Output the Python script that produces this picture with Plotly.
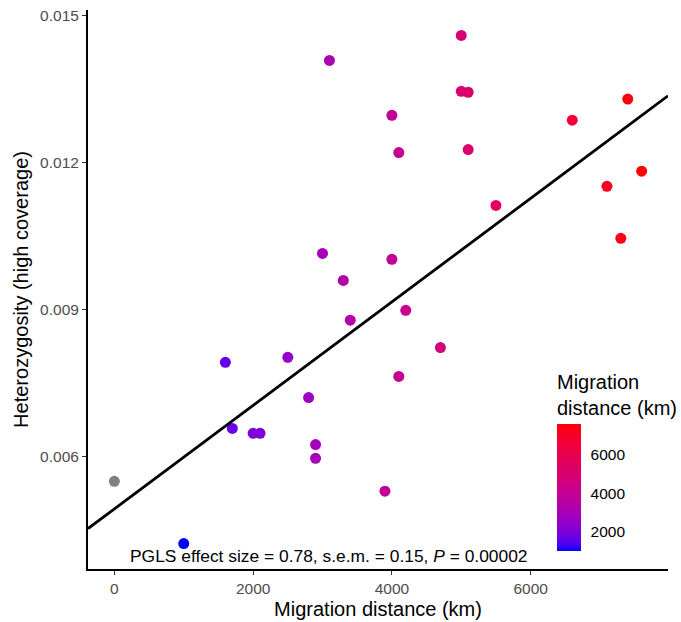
import plotly.graph_objects as go

# ---- data ----
migration_km = [1000, 1600, 1700, 2000, 2100, 2500, 2800, 2900, 2900, 3000,
                3100, 3300, 3400, 3900, 4000, 4000, 4100, 4100, 4200, 4700,
                5000, 5000, 5100, 5100, 5500, 6600, 7100, 7300, 7400, 7600]
heterozygosity = [0.00422, 0.00792, 0.00657, 0.00647, 0.00647, 0.00802, 0.00720, 0.00624, 0.00596, 0.01014,
                  0.01408, 0.00959, 0.00878, 0.00529, 0.01296, 0.01002, 0.01220, 0.00763, 0.00898, 0.00822,
                  0.01459, 0.01345, 0.01343, 0.01226, 0.01112, 0.01286, 0.01151, 0.01045, 0.01329, 0.01182]
# point without colour value (shown grey)
na_km = [0]
na_het = [0.00549]

fit_intercept = 0.004927
fit_slope = 1.0563e-6
annotation_text = "PGLS effect size = 0.78, s.e.m. = 0.15, <i>P</i> = 0.00002"
annot_x, annot_y = 3100, 0.00396

color_min, color_max = 1000, 7600
x_ticks = [0, 2000, 4000, 6000]
y_ticks = [0.006, 0.009, 0.012, 0.015]
cbar_ticks = [2000, 4000, 6000]


# ---- Lab interpolation (like ggplot's gradient) ----
def srgb_to_lab(rgb):
    def lin(c):
        c = c / 255.0
        return c / 12.92 if c <= 0.04045 else ((c + 0.055) / 1.055) ** 2.4
    r, g, b = [lin(c) for c in rgb]
    X = 0.4124 * r + 0.3576 * g + 0.1805 * b
    Y = 0.2126 * r + 0.7152 * g + 0.0722 * b
    Z = 0.0193 * r + 0.1192 * g + 0.9505 * b
    Xn, Yn, Zn = 0.95047, 1.0, 1.08883
    def f(t):
        return t ** (1 / 3) if t > 0.008856 else 7.787 * t + 16 / 116
    fx, fy, fz = f(X / Xn), f(Y / Yn), f(Z / Zn)
    return (116 * fy - 16, 500 * (fx - fy), 200 * (fy - fz))


def lab_to_srgb(lab):
    L, a, b = lab
    fy = (L + 16) / 116
    fx = fy + a / 500
    fz = fy - b / 200
    def finv(t):
        return t ** 3 if t ** 3 > 0.008856 else (t - 16 / 116) / 7.787
    Xn, Yn, Zn = 0.95047, 1.0, 1.08883
    X, Y, Z = Xn * finv(fx), Yn * finv(fy), Zn * finv(fz)
    r = 3.2406 * X - 1.5372 * Y - 0.4986 * Z
    g = -0.9689 * X + 1.8758 * Y + 0.0415 * Z
    bb = 0.0557 * X - 0.2040 * Y + 1.0570 * Z
    def gam(c):
        c = max(0.0, min(1.0, c))
        return 12.92 * c if c <= 0.0031308 else 1.055 * c ** (1 / 2.4) - 0.055
    return tuple(int(round(gam(c) * 255)) for c in (r, g, bb))


low, high = srgb_to_lab((0, 0, 255)), srgb_to_lab((255, 0, 0))
colorscale = []
n = 20
for i in range(n + 1):
    t = i / n
    lab = tuple(low[k] + (high[k] - low[k]) * t for k in range(3))
    r, g, b = lab_to_srgb(lab)
    colorscale.append([t, f"rgb({r},{g},{b})"])

# ---- axis ranges (5% expansion like ggplot) ----
all_x = migration_km + na_km
all_y = heterozygosity + na_het
xr = [min(all_x), max(all_x)]
yr = [min(all_y), max(all_y)]
xpad = (xr[1] - xr[0]) * 0.05
ypad = (yr[1] - yr[0]) * 0.05
x_range = [xr[0] - xpad, xr[1] + xpad]
y_range = [yr[0] - ypad, yr[1] + ypad]

TICK_SIZE = 15.5
TITLE_SIZE = 20

fig = go.Figure()

fig.add_trace(go.Scatter(
    x=na_km, y=na_het, mode="markers",
    marker=dict(size=11, color="#808080"),
    showlegend=False, hoverinfo="skip"))

fig.add_trace(go.Scatter(
    x=migration_km, y=heterozygosity, mode="markers",
    marker=dict(
        size=11, color=migration_km, colorscale=colorscale,
        cmin=color_min, cmax=color_max,
        colorbar=dict(
            title=dict(text="Migration<br>distance (km)", side="top",
                       font=dict(size=TITLE_SIZE, color="black")),
            tickvals=cbar_ticks, ticks="outside", ticklen=7,
            tickcolor="rgba(0,0,0,0)", outlinewidth=0,
            tickfont=dict(size=TICK_SIZE, color="black"),
            thickness=24, thicknessmode="pixels",
            len=180, lenmode="pixels",
            x=0.8086, xanchor="left", xpad=0,
            y=0.0322, yanchor="bottom", ypad=0,
        ),
    ),
    showlegend=False))

line_x = x_range
line_y = [fit_intercept + fit_slope * v for v in line_x]
fig.add_trace(go.Scatter(
    x=line_x, y=line_y, mode="lines",
    line=dict(color="black", width=2.8),
    showlegend=False, hoverinfo="skip"))

fig.add_annotation(
    x=annot_x, y=annot_y, xref="x", yref="y", text=annotation_text,
    showarrow=False, font=dict(size=17.4, color="black"),
    xanchor="center", yanchor="middle")

axis_common = dict(
    showgrid=False, zeroline=False, showline=True, linecolor="black",
    linewidth=2, ticks="outside", ticklen=4, tickwidth=1, tickcolor="#333333",
    tickfont=dict(size=TICK_SIZE, color="#4D4D4D"))

fig.update_xaxes(range=x_range, tickvals=x_ticks, tickformat="d",
                 title=dict(text="Migration distance (km)", font=dict(size=TITLE_SIZE, color="black"),
                            standoff=6),
                 **axis_common)
fig.update_yaxes(range=y_range, tickvals=y_ticks, tickformat=".3f",
                 title=dict(text="Heterozygosity (high coverage)", font=dict(size=TITLE_SIZE, color="black"),
                            standoff=6),
                 **axis_common)

fig.update_layout(
    width=681, height=622,
    margin=dict(l=88, r=13, t=10, b=53, autoexpand=False),
    plot_bgcolor="white", paper_bgcolor="white",
    font=dict(family="Liberation Sans, Arial, sans-serif"),
)

fig.write_html("out.html")
